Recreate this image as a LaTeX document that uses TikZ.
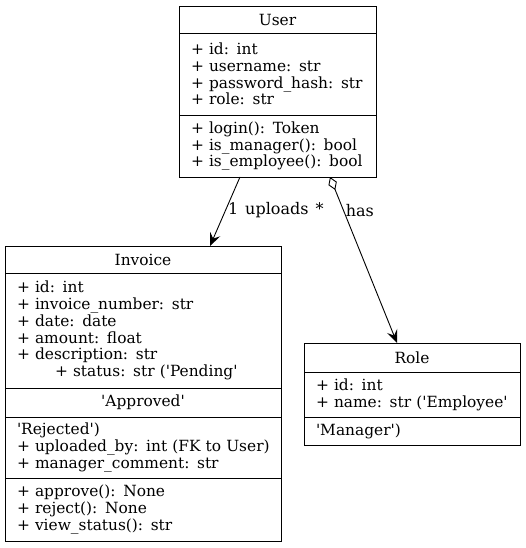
\documentclass[tikz,border=0pt]{standalone}
\usepackage{fontspec}
\setmainfont{DejaVu Serif}
\usetikzlibrary{positioning,arrows.meta}
\newcommand{\sq}{\textquotesingle}

\begin{document}
\begin{tikzpicture}[x=1pt, y=-1pt, node distance=0pt, line width=0.9pt,
    every node/.style={font=\fontsize{15.4}{16.8}\selectfont},
    headbox/.style={draw, rectangle, inner sep=0pt, outer sep=0pt, align=center},
    partbox/.style={draw, rectangle, inner xsep=12pt, inner ysep=0pt, outer sep=0pt, align=left,
        execute at begin node={\rightskip=0pt plus 1fil minus 40pt}},
    uses/.style={-{Stealth[length=13pt, width=11pt, inset=5pt]}},
    has/.style={{Diamond[open, length=14pt, width=9pt]}-{Stealth[length=13pt, width=11pt, inset=5pt]}},
    lbl/.style={anchor=west, inner sep=2pt, font=\fontsize{16}{18}\selectfont}]
    \useasboundingbox (0,0) rectangle (525,548);

    % User class
    \node[headbox, anchor=north west, minimum width=197pt, minimum height=27pt] (user) at (179,6) {User};
    \node[partbox, text width=173pt, minimum height=82pt, below=of user] (userattr)
        {+ id: int\\+ username: str\\+ password\_hash: str\\+ role: str};
    \node[partbox, text width=173pt, minimum height=62pt, below=of userattr] (usermeth)
        {+ login(): Token\\+ is\_manager(): bool\\+ is\_employee(): bool};

    % Invoice class
    \node[headbox, anchor=north west, minimum width=276pt, minimum height=27pt] (invoice) at (5,246) {Invoice};
    \node[partbox, text width=252pt, minimum height=115pt, below=of invoice] (invattr)
        {+ id: int\\+ invoice\_number: str\\+ date: date\\+ amount: float\\+ description: str\\
         \hspace*{38pt}+ status: str (\sq Pending\sq};
    \node[headbox, minimum width=276pt, minimum height=29pt, below=of invattr] (invappr) {\sq Approved\sq};
    \node[partbox, text width=252pt, minimum height=61pt, below=of invappr] (invrej)
        {\sq Rejected\sq)\\+ uploaded\_by: int (FK to User)\\+ manager\_comment: str};
    \node[partbox, text width=252pt, minimum height=63pt, below=of invrej] (invmeth)
        {+ approve(): None\\+ reject(): None\\+ view\_status(): str};

    % Role class
    \node[headbox, anchor=north west, minimum width=216pt, minimum height=29pt] (role) at (304,343) {Role};
    \node[partbox, text width=192pt, minimum height=45pt, below=of role] (roleattr)
        {+ id: int\\+ name: str (\sq Employee\sq};
    \node[partbox, text width=192pt, minimum height=28pt, below=of roleattr] (rolemgr)
        {\sq Manager\sq)};

    % Edges
    \draw[uses] ([xshift=-37.5pt]usermeth.south) -- node[lbl, pos=0.48] {1\hspace{7pt}uploads\hspace{7pt}*} ([xshift=67pt]invoice.north);
    \draw[has] ([xshift=52.5pt]usermeth.south) -- node[lbl, pos=0.2] {has} ([xshift=-15pt]role.north);
\end{tikzpicture}
\end{document}
